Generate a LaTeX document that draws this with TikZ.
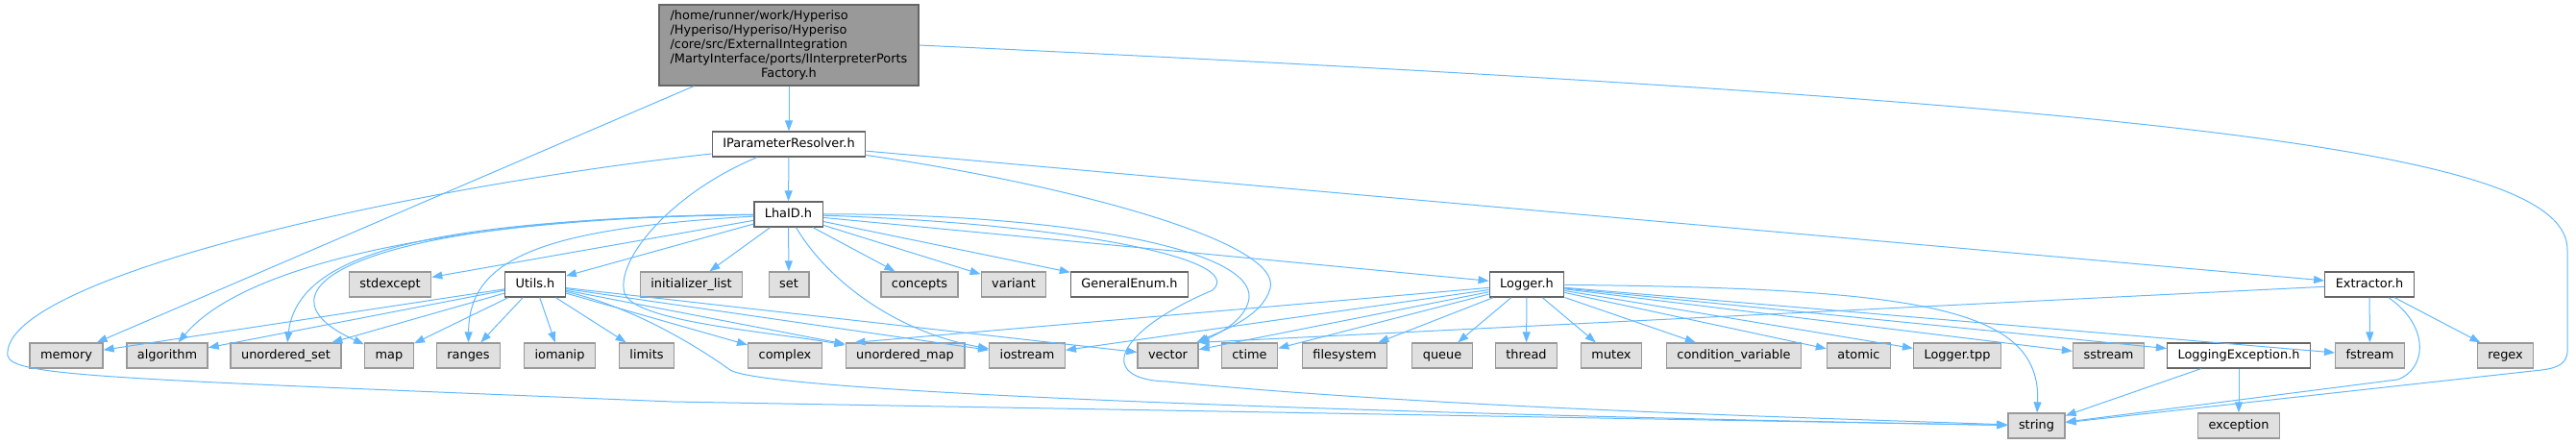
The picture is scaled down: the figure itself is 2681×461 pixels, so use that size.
\documentclass[tikz,border=0pt]{standalone}
\usepackage{fontspec}
\setmainfont{DejaVu Sans}
\usetikzlibrary{arrows.meta}
\definecolor{edgeblue}{HTML}{63B8FF}
\definecolor{boxgrey}{HTML}{E0E0E0}
\definecolor{linegrey}{HTML}{999999}
\definecolor{darkgrey}{HTML}{666666}
\newcommand{\doxfont}{\fontsize{12.9}{15}\selectfont}
\tikzset{
    sysinc/.style={draw=linegrey, fill=boxgrey, line width=1.3pt, minimum height=26pt,
        inner xsep=11pt, inner ysep=0pt, text height=9.5pt, text depth=2.8pt, font=\doxfont},
    localinc/.style={sysinc, draw=darkgrey, fill=white},
    topfile/.style={draw=darkgrey, fill=linegrey, line width=1.3pt, minimum width=270pt,
        minimum height=84pt, inner sep=0pt, font=\doxfont},
    dep/.style={draw=edgeblue, line width=1pt, -{Triangle[length=11pt,width=8pt]}},
}

\begin{document}
\begin{tikzpicture}[x=1pt,y=-1pt]
\useasboundingbox (0,0) rectangle (2681,461);
% the file and its own headers
\node[topfile] (main) at (821,47) {\begin{tabular}{@{}l@{}}
/home/runner/work/Hyperiso\\
/Hyperiso/Hyperiso/Hyperiso\\
/core/src/ExternalIntegration\\
/MartyInterface/ports/IInterpreterPorts\\
\multicolumn{1}{@{}c@{}}{Factory.h}\end{tabular}};
\node[localinc] (resolver) at (821,150) {IParameterResolver.h};
\node[localinc] (lhaid) at (820.5,223) {LhaID.h};
% row 3
\node[sysinc] (stdexcept) at (406,296) {stdexcept};
\node[localinc] (utils) at (557,296) {Utils.h};
\node[sysinc] (initlist) at (719.5,296) {initializer\_list};
\node[sysinc] (set) at (821,296) {set};
\node[sysinc] (concepts) at (957,296) {concepts};
\node[sysinc] (variant) at (1055,296) {variant};
\node[localinc] (genenum) at (1175.5,296) {GeneralEnum.h};
\node[localinc] (logger) at (1589,296) {Logger.h};
\node[localinc] (extractor) at (2466,296) {Extractor.h};
% row 4
\node[sysinc] (memory) at (69,370) {memory};
\node[sysinc] (algorithm) at (174,370) {algorithm};
\node[sysinc] (uset) at (297.5,370) {unordered\_set};
\node[sysinc] (map) at (405,370) {map};
\node[sysinc] (ranges) at (487.5,370) {ranges};
\node[sysinc] (iomanip) at (582.5,370) {iomanip};
\node[sysinc] (limits) at (673,370) {limits};
\node[sysinc] (complex) at (817,370) {complex};
\node[sysinc] (umap) at (942,370) {unordered\_map};
\node[sysinc] (iostream) at (1069,370) {iostream};
\node[sysinc] (vector) at (1215.5,370) {vector};
\node[sysinc] (ctime) at (1300.5,370) {ctime};
\node[sysinc] (filesystem) at (1399.5,370) {filesystem};
\node[sysinc] (queue) at (1501,370) {queue};
\node[sysinc] (thread) at (1588.5,370) {thread};
\node[sysinc] (mutex) at (1677,370) {mutex};
\node[sysinc] (condvar) at (1804.5,370) {condition\_variable};
\node[sysinc] (atomic) at (1934.5,370) {atomic};
\node[sysinc] (loggertpp) at (2037,370) {Logger.tpp};
\node[sysinc] (sstream) at (2194.5,370) {sstream};
\node[localinc] (logexc) at (2330,370) {LoggingException.h};
\node[sysinc] (fstream) at (2466.5,370) {fstream};
\node[sysinc] (regex) at (2607.5,370) {regex};
% row 5
\node[sysinc] (string) at (2119.5,443) {string};
\node[sysinc] (exception) at (2330,443) {exception};

% edges of the file
\draw[dep] (main) -- (resolver);
\draw[dep] (main) -- (memory);
\draw[dep] (main.east) .. controls (2300,110) and (2672,160) .. (2672,260) -- (2672,365)
    .. controls (2672,378) and (2662,383) .. (2645,385) -- (string);

% IParameterResolver.h
\draw[dep] (resolver) -- (lhaid);
\draw[dep] (resolver) -- (extractor);
\draw[dep] ([yshift=-10pt]resolver.west) .. controls (420,195) and (0,290) .. (8,370)
    .. controls (12,392) and (120,394) .. (700,418) -- (string);
\draw[dep] (resolver) .. controls (700,200) and (640,270) .. (650,305)
    .. controls (660,335) and (800,345) .. (umap);
\draw[dep] (resolver) .. controls (1100,190) and (1335,250) .. (1322,300)
    .. controls (1314,330) and (1270,345) .. (vector);

% LhaID.h
\foreach \t in {stdexcept,utils,initlist,set,concepts,variant,genenum,logger}
    \draw[dep] (lhaid) -- (\t);
\draw[dep] (lhaid) .. controls (500,226) and (260,268) .. (algorithm);
\draw[dep] (lhaid) .. controls (450,228) and (310,262) .. (uset);
\draw[dep] (lhaid) .. controls (380,226) and (250,300) .. (map);
\draw[dep] (lhaid) .. controls (560,238) and (488,270) .. (ranges);
\draw[dep] (lhaid) .. controls (860,290) and (930,345) .. (iostream);
\draw[dep] (lhaid) .. controls (1100,222) and (1305,258) .. (1300,310)
    .. controls (1297,335) and (1262,350) .. (vector);
\draw[dep] (lhaid) .. controls (1100,232) and (1300,268) .. (1262,302)
    .. controls (1160,345) and (1140,395) .. (1215,397)
    .. controls (1500,425) and (1900,435) .. (string);

% Utils.h
\foreach \t in {memory,algorithm,uset,map,ranges,iomanip,limits,complex,umap,iostream,vector}
    \draw[dep] (utils) -- (\t);
\draw[dep] (utils) .. controls (660,320) and (725,360) .. (760,385)
    .. controls (800,410) and (1500,432) .. (string);

% Logger.h
\draw[dep] (logger) -- ([xshift=10pt]umap.north west);
\foreach \t in {iostream,vector,ctime,filesystem,queue,thread,mutex,condvar,atomic,loggertpp,sstream,logexc,fstream}
    \draw[dep] (logger) -- (\t);
\draw[dep] (logger) .. controls (2000,300) and (2125,320) .. (string);

% Extractor.h
\draw[dep] (extractor) -- (vector.north east);
\draw[dep] (extractor) -- (fstream);
\draw[dep] (extractor) -- (regex);
\draw[dep] (extractor) .. controls (2530,340) and (2525,385) .. (2495,395) -- (string);

% LoggingException.h
\draw[dep] (logexc) -- (string);
\draw[dep] (logexc) -- (exception);
\end{tikzpicture}
\end{document}
